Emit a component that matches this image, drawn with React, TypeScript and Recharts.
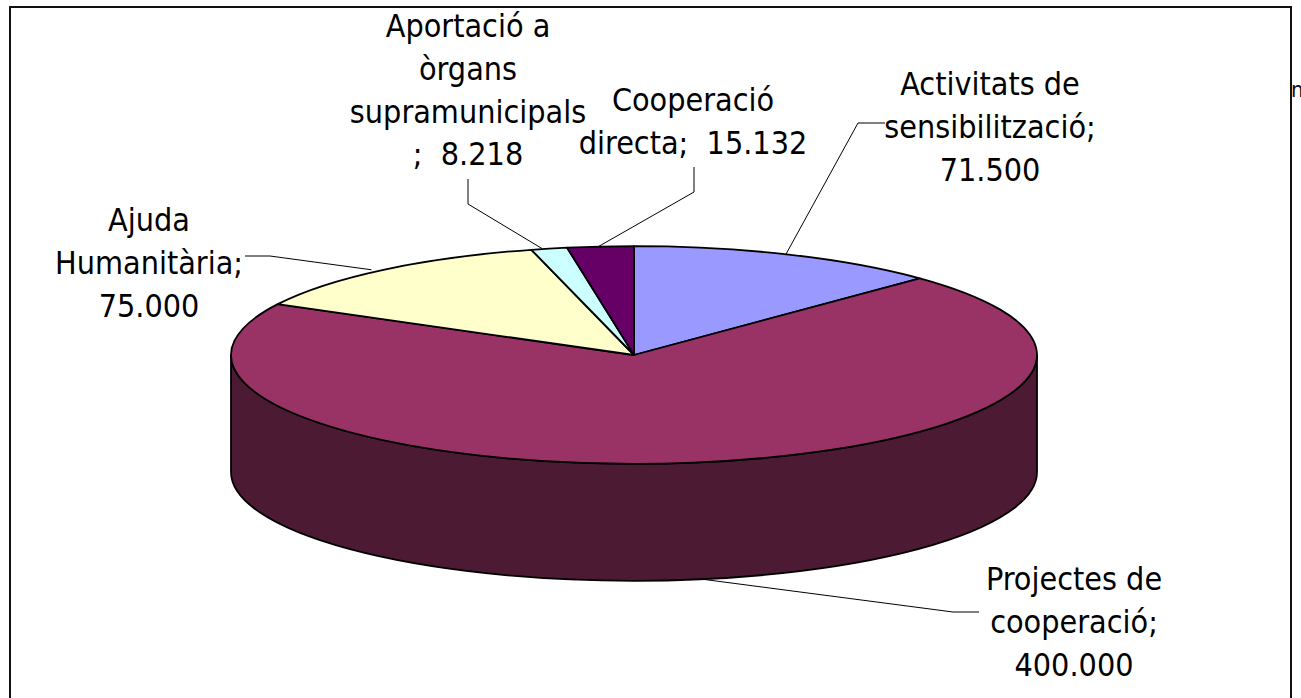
import { PieChart, Pie } from 'recharts';

// budget items, clockwise from twelve o'clock
const categories = [
  'Activitats de sensibilització',
  'Projectes de cooperació',
  'Ajuda Humanitària',
  'Aportació a òrgans supramunicipals',
  'Cooperació directa',
];
const amounts = [71500, 400000, 75000, 8218, 15132];
const topColors = ['#9999FF', '#993366', '#FFFFCC', '#CCFFFF', '#660066'];
const sideColors = ['#4D4D80', '#4D1A33', '#808066', '#668080', '#330033'];
const labelLines = [
  ['Activitats de', 'sensibilització;', '71.500'],
  ['Projectes de', 'cooperació;', '400.000'],
  ['Ajuda', 'Humanitària;', '75.000'],
  ['Aportació a', 'òrgans', 'supramunicipals', ';  8.218'],
  ['Cooperació', 'directa;  15.132'],
];

const tableData = categories.map((name, i) => ({ name, value: amounts[i] }));

const WIDTH = 1301;
const HEIGHT = 698;
const CX = 634;
const CY = 355;
const RX = 403;
const SQUASH = 0.27;
const DEPTH = 117;
const FONT = '"DejaVu Sans Condensed", "DejaVu Sans", sans-serif';
const FONT_SIZE = 32;
const LINE_HEIGHT = 42.8;

// where each text block sits, the leader's elbow and end, and how far its start slides along the rim
const labelPos = [
  { x: 990, y: 95, elbow: [858, 123], end: [885, 123], nudge: -3 },
  { x: 1074, y: 590, elbow: [953, 612], end: [979, 612], nudge: 12 },
  { x: 149, y: 231, elbow: [270, 256], end: [245, 256], nudge: -12 },
  { x: 468, y: 37, elbow: [468, 204], end: [468, 179], nudge: -7 },
  { x: 693, y: 111, elbow: [694, 192], end: [694, 167], nudge: -2 },
];

const pt = (cx: number, cy: number, rx: number, deg: number) => {
  const a = (deg * Math.PI) / 180;
  return [cx + rx * Math.cos(a), cy - rx * SQUASH * Math.sin(a)];
};

const TopSlice = (props: any) => {
  const { cx, cy, outerRadius: rx, startAngle, endAngle, fill } = props;
  const [x0, y0] = pt(cx, cy, rx, startAngle);
  const [x1, y1] = pt(cx, cy, rx, endAngle);
  const large = Math.abs(startAngle - endAngle) > 180 ? 1 : 0;
  const d = `M${cx},${cy}L${x0},${y0}A${rx},${rx * SQUASH} 0 ${large} 1 ${x1},${y1}Z`;
  return <path d={d} fill={fill} stroke="#000" strokeWidth={1.8} strokeLinejoin="round" />;
};

const SideSlice = (props: any) => {
  const { cx, cy, outerRadius: rx, startAngle, endAngle, fill } = props;
  // only the front half of the rim can be seen
  const hi = Math.min(startAngle, 0);
  const lo = Math.max(endAngle, -180);
  if (hi <= lo) return <g />;
  const ry = rx * SQUASH;
  const [x0, y0] = pt(cx, cy, rx, hi);
  const [x1, y1] = pt(cx, cy, rx, lo);
  const d = `M${x0},${y0}A${rx},${ry} 0 0 1 ${x1},${y1}L${x1},${y1 + DEPTH}A${rx},${ry} 0 0 0 ${x0},${y0 + DEPTH}Z`;
  return <path d={d} fill={fill} stroke="#000" strokeWidth={1.8} strokeLinejoin="round" />;
};

const renderLabel = (props: any) => {
  const { cx, cy, outerRadius, midAngle, index } = props;
  const pos = labelPos[index];
  let [sx, sy] = pt(cx, cy, outerRadius, midAngle);
  sx += pos.nudge;
  if (Math.sin((midAngle * Math.PI) / 180) < 0) sy += DEPTH; // front labels hang off the rim
  return (
    <g>
      <polyline
        points={`${sx},${sy} ${pos.elbow.join(',')} ${pos.end.join(',')}`}
        fill="none"
        stroke="#000"
        strokeWidth={1}
      />
      <text
        x={pos.x}
        y={pos.y}
        textAnchor="middle"
        fill="#000"
        fontFamily={FONT}
        fontSize={FONT_SIZE}
        style={{ whiteSpace: 'pre' }}
      >
        {labelLines[index].map((line, i) => (
          <tspan key={i} x={pos.x} y={pos.y + i * LINE_HEIGHT}>
            {line}
          </tspan>
        ))}
      </text>
    </g>
  );
};

export default function App() {
  const sideData = tableData.map((d, i) => ({ ...d, fill: sideColors[i] }));
  const topData = tableData.map((d, i) => ({ ...d, fill: topColors[i] }));
  return (
    <div style={{ position: 'absolute', left: 0, top: 0, width: WIDTH, height: HEIGHT, overflow: 'hidden', background: '#fff' }}>
      <div style={{ position: 'absolute', left: 1291, top: 77, fontFamily: FONT, fontSize: 22, color: '#111' }}>na</div>
      <div style={{ position: 'absolute', left: 9, top: 6, width: 1283, height: 760, border: '2px solid #111', boxSizing: 'border-box' }} />
      <PieChart width={WIDTH} height={HEIGHT} margin={{ top: 0, right: 0, bottom: 0, left: 0 }} style={{ position: 'absolute', left: 0, top: 0 }}>
        <Pie
          data={sideData}
          dataKey="value"
          cx={CX}
          cy={CY}
          outerRadius={RX}
          startAngle={90}
          endAngle={-270}
          shape={SideSlice}
          label={false}
          labelLine={false}
          isAnimationActive={false}
        />
        <Pie
          data={topData}
          dataKey="value"
          cx={CX}
          cy={CY}
          outerRadius={RX}
          startAngle={90}
          endAngle={-270}
          shape={TopSlice}
          label={renderLabel}
          labelLine={false}
          isAnimationActive={false}
        />
      </PieChart>
    </div>
  );
}
